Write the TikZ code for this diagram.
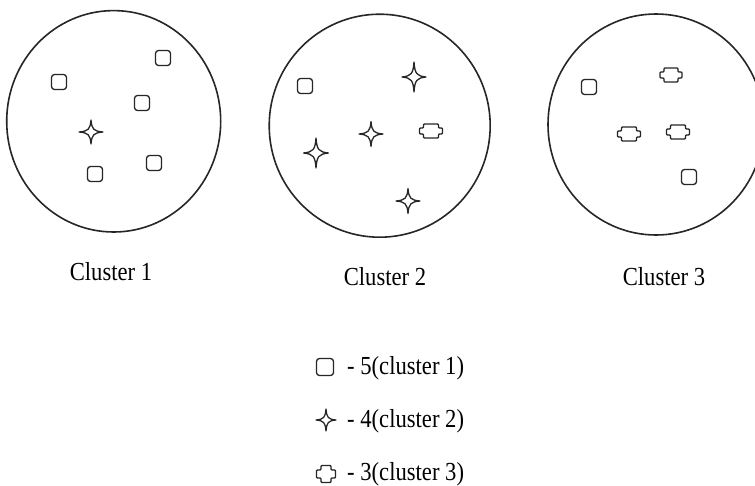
\documentclass[tikz,border=0pt]{standalone}
\usepackage{fontspec}
\setmainfont{Liberation Serif}[FakeStretch=0.87]
\tikzset{
  ring/.style={line width=1.6pt, draw=black!85},
  markline/.style={line width=1.3pt, draw=black!85, line join=round},
  label/.style={font=\fontsize{26}{30}\selectfont, anchor=base, inner sep=0pt},
  legendtext/.style={font=\fontsize{26}{30}\selectfont, anchor=base west, inner sep=0pt},
  % rounded square, side #1
  pics/sqmark/.style={code={
    \draw[markline, rounded corners=3pt] (-#1/2,-#1/2) rectangle (#1/2,#1/2);}},
  % four-pointed star, half width #1, half height #2
  pics/starmark/.style 2 args={code={
    \draw[markline]
      (0,#2) .. controls (0.07*#1,0.22*#2) and (0.22*#1,0.07*#2) .. (#1,0)
             .. controls (0.22*#1,-0.07*#2) and (0.07*#1,-0.22*#2) .. (0,-#2)
             .. controls (-0.07*#1,-0.22*#2) and (-0.22*#1,-0.07*#2) .. (-#1,0)
             .. controls (-0.22*#1,0.07*#2) and (-0.07*#1,0.22*#2) .. (0,#2) -- cycle;}},
  % notched cross: full width #1, full height #2, top half-width #3, arm half-height #4
  pics/crossmark/.style n args={4}{code={
    \draw[markline, rounded corners=0.9pt]
      (-#3,#2/2) -- (#3,#2/2) -- (#3,#4) -- (#1/2,#4) -- (#1/2,-#4) -- (#3,-#4)
      -- (#3,-#2/2) -- (-#3,-#2/2) -- (-#3,-#4) -- (-#1/2,-#4) -- (-#1/2,#4)
      -- (-#3,#4) -- cycle;}}
}
\begin{document}
\begin{tikzpicture}[x=1pt,y=-1pt]
\useasboundingbox (0,0) rectangle (755,485);
\fill[white] (0,0) rectangle (755,485);

% cluster outlines
\draw[ring] (113.7,121.3) ellipse [x radius=107, y radius=110.7];
\draw[ring] (379.7,125.7) ellipse [x radius=110.5, y radius=111.5];
\draw[ring] (656,124.5) ellipse [x radius=108, y radius=110.5];

% cluster 1
\pic at (59,82)   {sqmark=15};
\pic at (163,58)  {sqmark=15};
\pic at (142,103) {sqmark=15};
\pic at (154,163) {sqmark=15};
\pic at (95,174)  {sqmark=15};
\pic at (91,132)  {starmark={12}{12}};

% cluster 2
\pic at (305,86)  {sqmark=15};
\pic at (414,77)  {starmark={12}{15}};
\pic at (371,134) {starmark={12}{12.5}};
\pic at (316,153) {starmark={12.5}{15}};
\pic at (408,201) {starmark={12}{12.5}};
\pic at (431,131) {crossmark={23}{14}{7.5}{3}};

% cluster 3
\pic at (589,87)  {sqmark=15};
\pic at (671,75)  {crossmark={22}{14}{7}{3}};
\pic at (629,134) {crossmark={23}{14}{7.5}{3}};
\pic at (678,132) {crossmark={23}{14}{7.5}{3}};
\pic at (689,177) {sqmark=15};

% cluster captions
\node[label] (c1) at (111,280) {Cluster 1};
\node[label] (c2) at (385,285) {Cluster 2};
\node[label] (c3) at (664,285) {Cluster 3};

% legend
\pic at (325,367) {sqmark=17};
\pic at (326,420) {starmark={10}{11}};
\pic at (326,474) {crossmark={19}{17}{5}{4}};
\node[legendtext] (l1) at (347,374) {- 5(cluster 1)};
\node[legendtext] (l2) at (347,427) {- 4(cluster 2)};
\node[legendtext] (l3) at (347,480) {- 3(cluster 3)};
\end{tikzpicture}
\end{document}
